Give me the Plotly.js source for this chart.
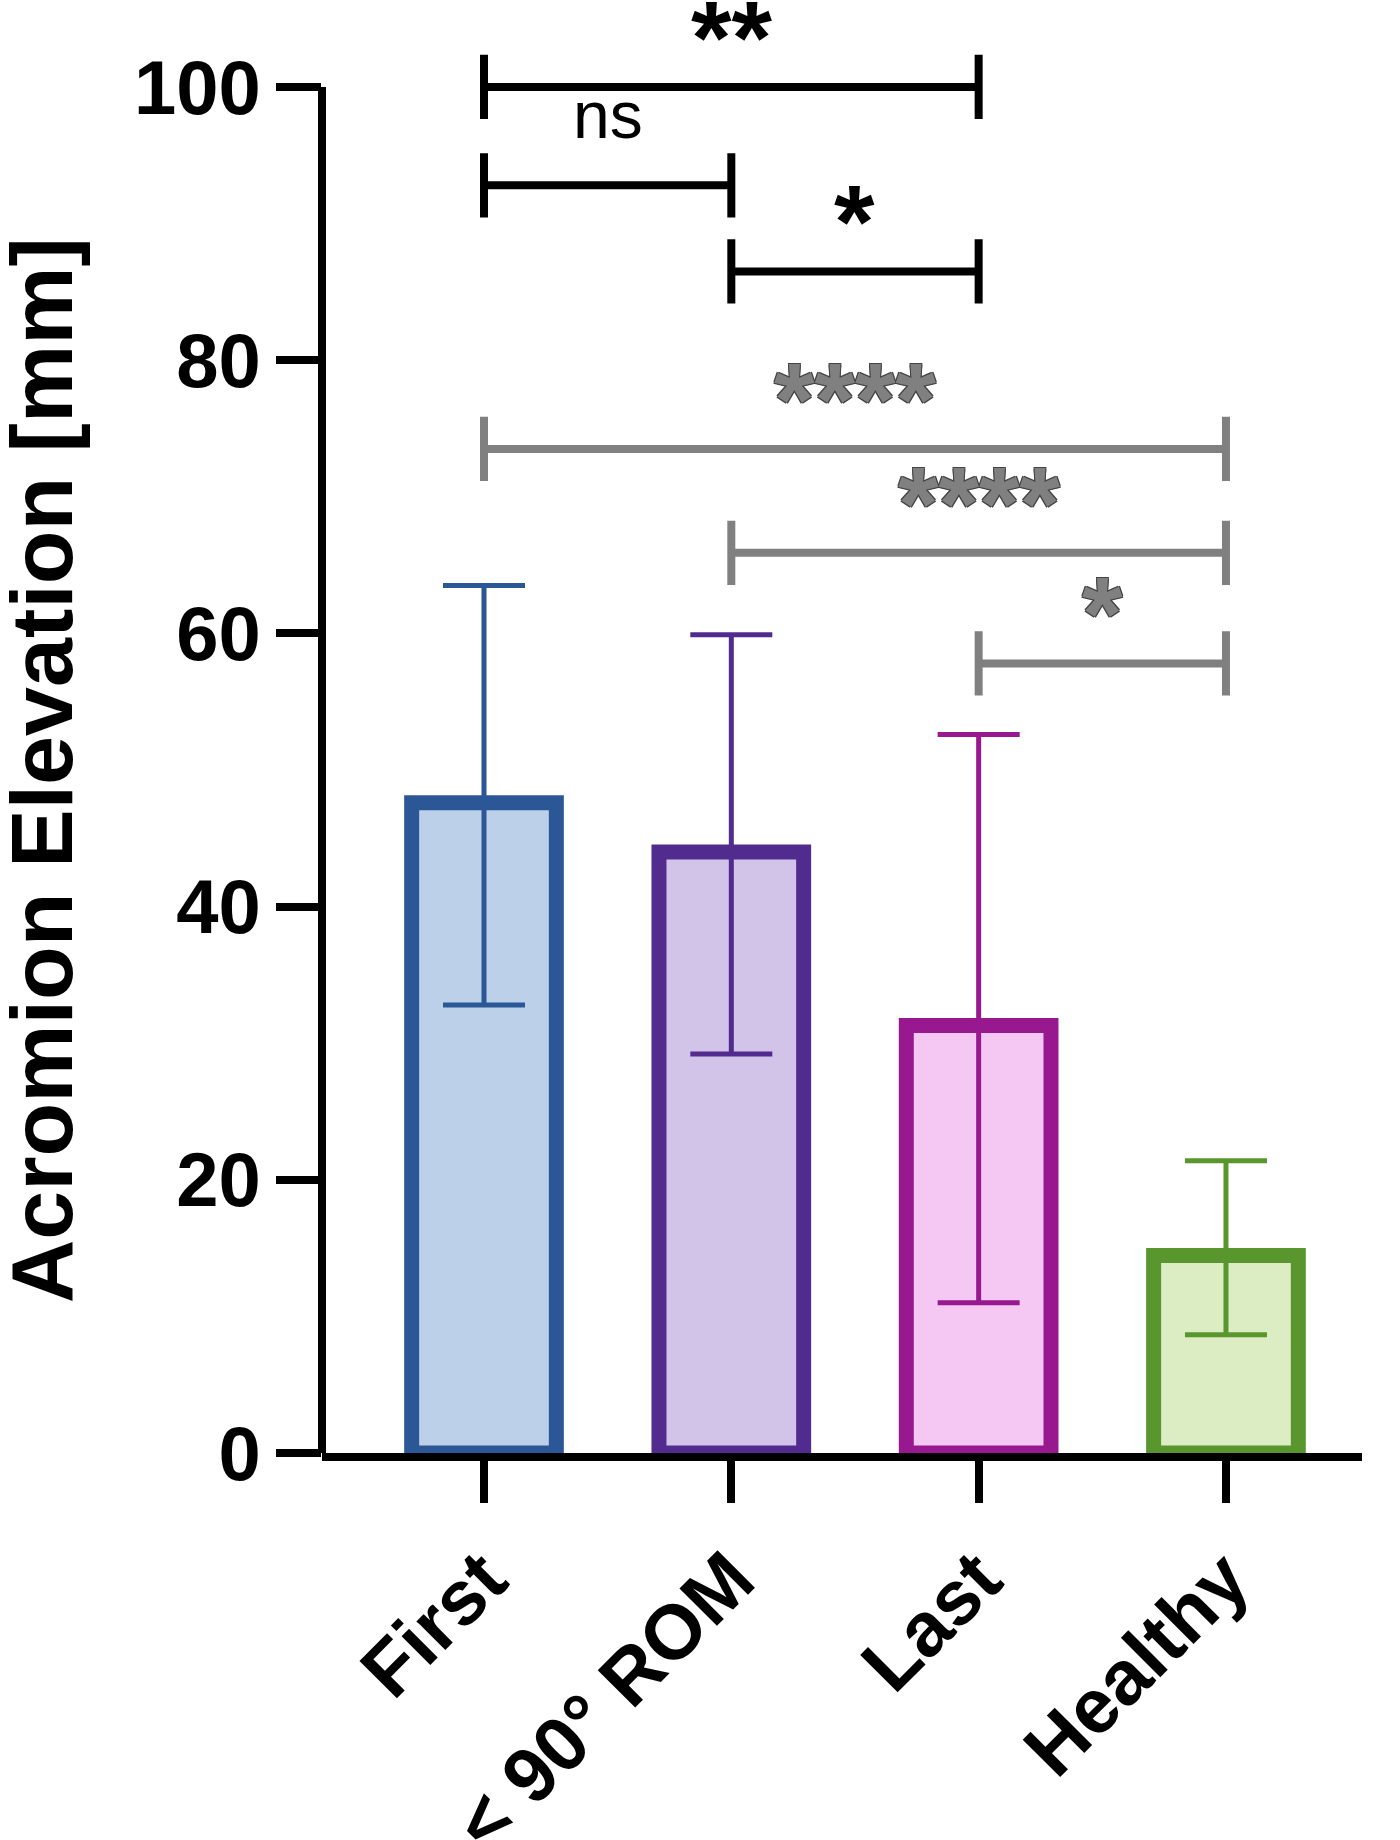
<!DOCTYPE html>
<html>
<head>
<meta charset="utf-8">
<script src="https://cdn.plot.ly/plotly-3.0.1.min.js"></script>
<style>
  html, body { margin: 0; padding: 0; background: #fff; }
  #graph { width: 1400px; height: 1840px; }
</style>
</head>
<body>
<div id="graph"></div>
<script>
// groups: bar height and error bar ends (mm)
var categories = ['First', '< 90° ROM', 'Last', 'Healthy'];
var means = [47.6, 44.0, 31.3, 14.45];
var errUpper = [63.5, 59.9, 52.6, 21.4];
var errLower = [32.8, 29.2, 11.0, 8.65];

var lineColors = ['#2b5797', '#512c8e', '#98198f', '#5a962e'];
var fillColors = ['#bdd0ea', '#d1c4e8', '#f4c8f3', '#ddedc3'];

// pairwise comparisons: from / to index, bracket height, label
var compFrom = [0, 0, 1, 0, 1, 2];
var compTo = [2, 1, 2, 3, 3, 3];
var compLevel = [100, 92.8, 86.5, 73.5, 65.9, 57.8];
var compLabel = ['**', 'ns', '*', '****', '****', '*'];

var FONT = 'Liberation Sans, Arial, sans-serif';

var data = [];
for (var i = 0; i < categories.length; i++) {
  data.push({
    type: 'bar',
    x: [categories[i]],
    y: [means[i]],
    width: 0.585,
    marker: {
      color: fillColors[i],
      line: { color: lineColors[i], width: 15 }
    },
    error_y: {
      type: 'data',
      symmetric: false,
      array: [errUpper[i] - means[i]],
      arrayminus: [means[i] - errLower[i]],
      visible: true,
      color: lineColors[i],
      thickness: 5,
      width: 41
    },
    hoverinfo: 'skip'
  });
}

var shapes = [];
var annotations = [];

// y axis line, only up to 100
shapes.push({
  type: 'line', xref: 'paper', yref: 'y',
  x0: 0, x1: 0, y0: 0, y1: 100,
  line: { color: '#000', width: 8 }
});

var tickHalf = 2.35;
for (var k = 0; k < compLabel.length; k++) {
  var grey = compTo[k] === 3;
  var col = grey ? '#808080' : '#000';
  var a = compFrom[k], b = compTo[k], lv = compLevel[k];
  shapes.push({
    type: 'path', xref: 'x', yref: 'y',
    path: 'M' + a + ',' + (lv - tickHalf) + ' L' + a + ',' + (lv + tickHalf) +
          ' M' + a + ',' + lv + ' L' + b + ',' + lv +
          ' M' + b + ',' + (lv - tickHalf) + ' L' + b + ',' + (lv + tickHalf),
    line: { color: col, width: 8 }
  });
  var isNs = compLabel[k] === 'ns';
  annotations.push({
    xref: 'x', yref: 'y',
    x: (a + b) / 2, y: lv,
    text: compLabel[k],
    showarrow: false,
    xanchor: 'center', yanchor: 'middle',
    yshift: isNs ? 70 : 49,
    font: {
      family: FONT,
      size: isNs ? 66 : 104,
      weight: isNs ? 'normal' : 'bold',
      color: col,
      shadow: grey ? '1px 1px 0 #444, -1px -1px 0 #444, 1px -1px 0 #444, -1px 1px 0 #444' : 'none'
    }
  });
}

// y axis title
annotations.push({
  xref: 'paper', yref: 'y',
  x: -0.269, y: 50,
  text: 'Acromion Elevation [mm]',
  textangle: -90,
  showarrow: false,
  xanchor: 'center', yanchor: 'middle',
  font: { family: FONT, size: 88, weight: 'bold', color: '#000' }
});

var layout = {
  width: 1400,
  height: 1840,
  margin: { l: 322, r: 38, t: 5, b: 387 },
  paper_bgcolor: '#fff',
  plot_bgcolor: '#fff',
  showlegend: false,
  barmode: 'overlay',
  xaxis: {
    type: 'category',
    range: [-0.655, 3.55],
    showgrid: false,
    zeroline: false,
    showline: true,
    linecolor: '#000',
    linewidth: 8,
    ticks: 'outside',
    ticklen: 42,
    tickwidth: 8,
    tickcolor: '#000',
    tickangle: -45,
    tickfont: { family: FONT, size: 77, weight: 'bold', color: '#000' }
  },
  yaxis: {
    range: [0, 106],
    tickvals: [0, 20, 40, 60, 80, 100],
    showgrid: false,
    zeroline: false,
    showline: false,
    ticks: 'outside',
    ticklen: 45,
    tickwidth: 8,
    tickcolor: '#000',
    tickfont: { family: FONT, size: 76, weight: 'bold', color: '#000' }
  },
  shapes: shapes,
  annotations: annotations
};

Plotly.newPlot('graph', data, layout, { displayModeBar: false, staticPlot: true });
</script>
</body>
</html>
